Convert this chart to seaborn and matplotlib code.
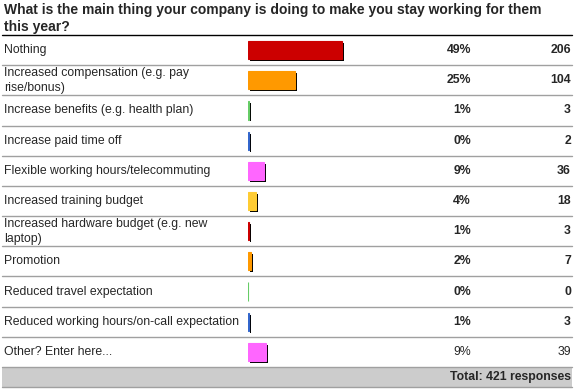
import matplotlib
matplotlib.use("Agg")
import matplotlib.pyplot as plt
import matplotlib.patheffects as pe
from matplotlib.patches import Rectangle
from matplotlib.transforms import blended_transform_factory
import seaborn as sns

# survey data
title = "What is the main thing your company is doing to make you stay working for them\nthis year?"
answers = [
    "Nothing",
    "Increased compensation (e.g. pay\nrise/bonus)",
    "Increase benefits (e.g. health plan)",
    "Increase paid time off",
    "Flexible working hours/telecommuting",
    "Increased training budget",
    "Increased hardware budget (e.g. new\nlaptop)",
    "Promotion",
    "Reduced travel expectation",
    "Reduced working hours/on-call expectation",
    "Other? Enter here...",
]
counts = [206, 104, 3, 2, 36, 18, 3, 7, 0, 3, 39]
percents = ["49%", "25%", "1%", "0%", "9%", "4%", "1%", "2%", "0%", "1%", "9%"]
total_label = "Total: 421 responses"
total = 421
bar_colors = ["#CC0000", "#FF9900", "#66CC66", "#3366CC", "#FF66FF", "#FFCC33",
              "#CC0000", "#FF9900", "#66CC66", "#3366CC", "#FF66FF"]

sns.set_style("white")
plt.rcParams["font.family"] = ["Liberation Sans", "DejaVu Sans"]

W, H = 576, 392
fig = plt.figure(figsize=(W / 100, H / 100), dpi=100)
fig.patch.set_facecolor("white")

# bar area: x 248..440 px, rows 35..367 px
ax = fig.add_axes([248 / W, (H - 367) / H, 192 / W, (367 - 35) / H])
sns.barplot(x=counts, y=list(range(len(answers))), orient="h", hue=list(range(len(answers))),
            palette=bar_colors, saturation=1, legend=False, width=0.6, ax=ax, linewidth=0.8)
for p, c in zip(ax.patches, bar_colors):
    p.set_edgecolor(c)
    p.set_path_effects([pe.SimplePatchShadow(offset=(1.4, -1.4), shadow_rgbFace="black", alpha=1),
                        pe.Normal()])
ax.set_xlim(0, total)
ax.set_ylim(len(answers) - 0.5, -0.5)
ax.axis("off")

tr = blended_transform_factory(fig.transFigure, ax.transData)
x0, x1 = 2 / W, 572 / W

# row separators
ax.plot([x0, x1], [-0.5, -0.5], color="black", lw=1.0, transform=tr, clip_on=False)
for i in range(len(answers)):
    ax.plot([x0, x1], [i + 0.5, i + 0.5], color="#A0A0A0", lw=1.0, transform=tr, clip_on=False)

# text columns
fs = 8.8
for i, (lab, pct, n) in enumerate(zip(answers, percents, counts)):
    weight = "normal" if i == len(answers) - 1 else "bold"
    ax.text(4 / W, i, lab, transform=tr, ha="left", va="center", fontsize=fs,
            linespacing=1.3)
    ax.text(471 / W, i, pct, transform=tr, ha="right", va="center", fontsize=fs,
            fontweight=weight)
    ax.text(571 / W, i, str(n), transform=tr, ha="right", va="center", fontsize=fs,
            fontweight=weight)

# total row
n = len(answers)
ax.add_patch(Rectangle((x0, n - 0.5), x1 - x0, 0.66, transform=tr, facecolor="#CCCCCC",
                       edgecolor="none", clip_on=False))
ax.plot([x0, x1], [n + 0.17, n + 0.17], color="#A0A0A0", lw=1.0, transform=tr, clip_on=False)
ax.text(571 / W, n - 0.17, total_label, transform=tr, ha="right", va="center",
        fontsize=fs, fontweight="bold")

fig.text(4 / W, 1 - 3 / H, title, ha="left", va="top", fontsize=10.0, fontweight="bold",
         linespacing=1.3)

fig.savefig("out.png", dpi=100)
